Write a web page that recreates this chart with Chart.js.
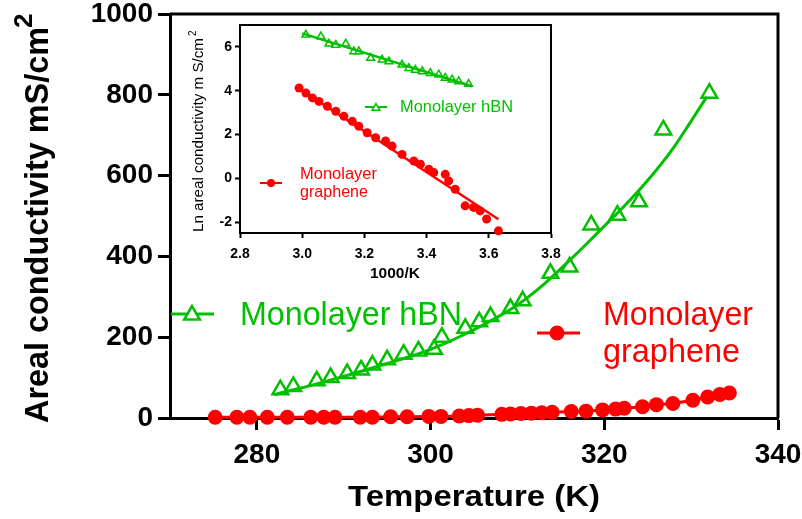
<!DOCTYPE html>
<html>
<head>
<meta charset="utf-8">
<script src="https://cdn.jsdelivr.net/npm/chart.js@4.4.1/dist/chart.umd.min.js"></script>
<style>
  html, body { margin: 0; padding: 0; background: #fff; }
  #wrap { position: relative; width: 802px; height: 519px; }
  #wrap canvas { position: absolute; left: 0; top: 0; }
</style>
</head>
<body>
<div id="wrap">
  <canvas id="mainChart" width="802" height="519"></canvas>
  <canvas id="insetChart" width="802" height="519"></canvas>
</div>
<script>
// main plot: conductivity vs temperature
var hbnT = [282.7, 284.2, 286.9, 288.5, 290.4, 292.0, 293.3, 295.0, 296.9, 298.6, 300.4, 301.3, 304.0, 305.6, 306.9, 309.2, 310.6, 313.8, 316.0, 318.5, 321.5, 324.0, 326.8, 332.1];
var hbnV = [70, 78, 92, 100, 110, 119, 131, 144, 158, 166, 170, 200, 222, 238, 251, 271, 290, 358, 374, 478, 502, 535, 713, 804];
var hbnFitT = [282, 287, 293, 300, 304, 310, 313, 316, 318, 320, 322, 324, 326, 328, 330, 331.8];
var hbnFitV = [58, 85, 122, 170, 208, 280, 330, 390, 432, 475, 518, 564, 614, 670, 735, 795];
var grT = [275.2, 277.7, 279.2, 281.2, 283.5, 286.2, 287.7, 289.0, 291.9, 293.3, 295.4, 297.3, 299.8, 301.2, 303.3, 304.4, 305.4, 308.2, 309.2, 310.4, 311.6, 312.8, 314.0, 316.2, 317.9, 319.8, 321.3, 322.3, 324.4, 326.0, 327.9, 330.2, 331.9, 333.3, 334.4];
var grV = [2, 2, 2, 2, 2, 2, 2, 2, 2, 2, 3, 3, 4, 4, 5, 6, 7, 9, 10, 11, 12, 13, 14, 16, 17, 20, 22, 24, 28, 33, 36, 44, 52, 58, 62];
var mainXTicks = [280, 300, 320, 340];
var mainYTicks = [0, 200, 400, 600, 800, 1000];

// inset: ln conductivity vs 1000/K
var hbnInv = [3.012, 3.060, 3.086, 3.108, 3.140, 3.166, 3.182, 3.220, 3.257, 3.279, 3.321, 3.343, 3.364, 3.386, 3.412, 3.439, 3.460, 3.482, 3.503, 3.535];
var hbnLn = [6.55, 6.47, 6.14, 6.09, 6.14, 5.79, 5.79, 5.49, 5.41, 5.33, 5.18, 5.03, 4.95, 4.88, 4.80, 4.73, 4.58, 4.50, 4.42, 4.30];
var hbnFitInv = [3.000, 3.546];
var hbnFitLn = [6.62, 4.20];
var grInv = [2.990, 3.012, 3.033, 3.054, 3.081, 3.108, 3.134, 3.161, 3.182, 3.209, 3.236, 3.268, 3.289, 3.321, 3.359, 3.380, 3.407, 3.423, 3.460, 3.471, 3.492, 3.524, 3.551, 3.572, 3.593, 3.631];
var grLn = [4.12, 3.89, 3.67, 3.51, 3.29, 3.06, 2.83, 2.60, 2.38, 2.08, 1.85, 1.70, 1.47, 1.09, 0.79, 0.64, 0.41, 0.26, 0.18, -0.12, -0.50, -1.26, -1.33, -1.49, -1.86, -2.40];
var grFitInv = [2.990, 3.631];
var grFitLn = [4.10, -1.87];
var insetXTicks = [2.8, 3.0, 3.2, 3.4, 3.6, 3.8];
var insetYTicks = [-2, 0, 2, 4, 6];

var FONT = '"Liberation Sans", Arial, Helvetica, sans-serif';
var GREEN = '#00c000';
var RED = '#ff0000';

function pts(xs, ys) {
  return xs.map(function(x, i) { return { x: x, y: ys[i] }; });
}

// text drawn from baseline start, stretched to a given width
function label(ctx, text, x, y, font, color, width, rot) {
  ctx.save();
  ctx.font = font;
  ctx.fillStyle = color;
  ctx.textAlign = 'left';
  ctx.textBaseline = 'alphabetic';
  ctx.translate(x, y);
  if (rot) ctx.rotate(rot);
  if (width) ctx.scale(width / ctx.measureText(text).width, 1);
  ctx.fillText(text, 0, 0);
  ctx.restore();
}

function legendLine(ctx, x1, x2, y, color, lw) {
  ctx.save();
  ctx.strokeStyle = color;
  ctx.lineWidth = lw;
  ctx.beginPath();
  ctx.moveTo(x1, y);
  ctx.lineTo(x2, y);
  ctx.stroke();
  ctx.restore();
}

function triangle(ctx, x, y, r, color, lw) {
  ctx.save();
  ctx.strokeStyle = color;
  ctx.fillStyle = '#fff';
  ctx.lineWidth = lw;
  ctx.beginPath();
  for (var i = 0; i < 3; i++) {
    var a = i * 2 * Math.PI / 3;
    var px = x + Math.sin(a) * r, py = y - Math.cos(a) * r;
    if (i === 0) ctx.moveTo(px, py); else ctx.lineTo(px, py);
  }
  ctx.closePath();
  ctx.fill();
  ctx.stroke();
  ctx.restore();
}

function dot(ctx, x, y, r, color) {
  ctx.save();
  ctx.fillStyle = color;
  ctx.beginPath();
  ctx.arc(x, y, r, 0, Math.PI * 2);
  ctx.fill();
  ctx.restore();
}

function frame(ctx, area, lw) {
  ctx.save();
  ctx.strokeStyle = '#000';
  ctx.lineWidth = lw;
  ctx.beginPath();
  ctx.moveTo(area.left, area.top);
  ctx.lineTo(area.right, area.top);
  ctx.lineTo(area.right, area.bottom);
  ctx.stroke();
  ctx.restore();
}

function axis(min, max, ticks, fontSize, tick, lw, pad, fixed, horizontal, fmt) {
  return {
    type: 'linear', min: min, max: max,
    grid: { drawOnChartArea: false, drawTicks: true, tickLength: tick, tickWidth: lw, tickColor: '#000' },
    border: { display: true, color: '#000', width: lw },
    ticks: {
      color: '#000', padding: pad, autoSkip: false, maxRotation: 0,
      font: { family: FONT, size: fontSize, weight: 'bold' },
      callback: fmt || function(v) { return v; }
    },
    afterBuildTicks: function(s) { s.ticks = ticks.map(function(v) { return { value: v }; }); },
    afterFit: function(s) {
      if (horizontal) { s.height = fixed; s.paddingLeft = 0; s.paddingRight = 0; }
      else { s.width = fixed; s.paddingTop = 0; s.paddingBottom = 0; }
    }
  };
}

var mainDecor = {
  id: 'mainDecor',
  afterDraw: function(chart) {
    var ctx = chart.ctx;
    frame(ctx, chart.chartArea, 3);
    label(ctx, 'Areal conductivity mS/cm', 48, 423, 'bold 34px ' + FONT, '#000', 396, -Math.PI / 2);
    label(ctx, '2', 32, 28, 'bold 26px ' + FONT, '#000', null, -Math.PI / 2);
    label(ctx, 'Temperature (K)', 348, 506, 'bold 30px ' + FONT, '#000', 252);
    legendLine(ctx, 171, 214, 314, GREEN, 3);
    triangle(ctx, 192, 315, 9, GREEN, 2.5);
    label(ctx, 'Monolayer hBN', 240, 325, '33px ' + FONT, GREEN, 222);
    legendLine(ctx, 537, 580, 333, RED, 3);
    dot(ctx, 557, 333, 7.5, RED);
    label(ctx, 'Monolayer', 603, 325, '33px ' + FONT, RED, 150);
    label(ctx, 'graphene', 603, 362, '33px ' + FONT, RED, 137);
  }
};

var insetDecor = {
  id: 'insetDecor',
  afterDraw: function(chart) {
    var ctx = chart.ctx;
    frame(ctx, chart.chartArea, 2);
    label(ctx, '1000/K', 370, 278, 'bold 14px ' + FONT, '#000', 50);
    label(ctx, 'Ln areal conductivity m S/cm', 203, 232, '15px ' + FONT, '#000', 194, -Math.PI / 2);
    label(ctx, '2', 196, 36, '10px ' + FONT, '#000', null, -Math.PI / 2);
    legendLine(ctx, 365, 387, 107, GREEN, 2);
    triangle(ctx, 376, 108, 4.5, GREEN, 1.5);
    label(ctx, 'Monolayer hBN', 400, 112, '16px ' + FONT, GREEN, 113);
    legendLine(ctx, 260, 282, 183, RED, 2);
    dot(ctx, 271, 183, 4, RED);
    label(ctx, 'Monolayer', 300, 179, '16px ' + FONT, RED, 77);
    label(ctx, 'graphene', 300, 197, '16px ' + FONT, RED, 68);
  }
};

new Chart(document.getElementById('mainChart'), {
  type: 'line',
  data: {
    datasets: [
      { data: pts(hbnFitT, hbnFitV), borderColor: GREEN, borderWidth: 3, pointRadius: 0, cubicInterpolationMode: 'monotone', clip: false },
      { data: pts(hbnT, hbnV), showLine: false, pointStyle: 'triangle', pointRadius: 9, pointBorderWidth: 2.5,
        pointBorderColor: GREEN, pointBackgroundColor: '#fff', clip: false },
      { data: pts(grT, grV), borderColor: RED, borderWidth: 3, pointStyle: 'circle', pointRadius: 7.5, pointBorderWidth: 0,
        pointBackgroundColor: RED, clip: false }
    ]
  },
  options: {
    responsive: false, animation: false,
    layout: { padding: { left: 0, top: 14, right: 24, bottom: 0 } },
    plugins: { legend: { display: false }, tooltip: { enabled: false } },
    scales: {
      x: axis(270, 340, mainXTicks, 28, 12, 3, 8, 101, true),
      y: axis(0, 1000, mainYTicks, 28, 12, 3, 5, 170, false)
    }
  },
  plugins: [mainDecor]
});

new Chart(document.getElementById('insetChart'), {
  type: 'line',
  data: {
    datasets: [
      { data: pts(hbnFitInv, hbnFitLn), borderColor: GREEN, borderWidth: 2.5, pointRadius: 0, clip: false },
      { data: pts(hbnInv, hbnLn), showLine: false, pointStyle: 'triangle', pointRadius: 4.5, pointBorderWidth: 1.5,
        pointBorderColor: GREEN, pointBackgroundColor: '#fff', clip: false },
      { data: pts(grFitInv, grFitLn), borderColor: RED, borderWidth: 2.5, pointRadius: 0, clip: false },
      { data: pts(grInv, grLn), showLine: false, pointStyle: 'circle', pointRadius: 4.5, pointBorderWidth: 0,
        pointBackgroundColor: RED, clip: false }
    ]
  },
  options: {
    responsive: false, animation: false,
    layout: { padding: { left: 185, top: 25, right: 251, bottom: 231 } },
    plugins: { legend: { display: false }, tooltip: { enabled: false } },
    scales: {
      x: axis(2.8, 3.8, insetXTicks, 14, 5, 2, 8, 55, true, function(v) { return v.toFixed(1); }),
      y: axis(-2.5, 7, insetYTicks, 14, 5, 2, 3, 55, false)
    }
  },
  plugins: [insetDecor]
});
</script>
</body>
</html>
